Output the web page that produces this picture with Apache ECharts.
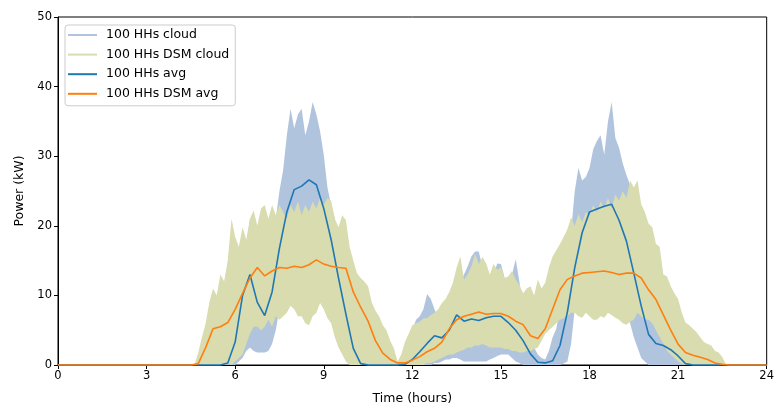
<!DOCTYPE html>
<html>
<head>
<meta charset="utf-8">
<script src="https://cdn.jsdelivr.net/npm/echarts@6/dist/echarts.min.js"></script>
<style>
  html, body { margin: 0; padding: 0; background: #fff; }
  #chart { width: 777px; height: 410px; }
</style>
</head>
<body>
<div id="chart"></div>
<script>
// Time grid for the averages: quarter-hour steps over the day (0 .. 24 h)
const hours = Array.from({ length: 97 }, (_, i) => i / 4);
// Time grid for the household spread: 7.5-minute steps, 4:30 .. 23:00
const cloudHours = Array.from({ length: 149 }, (_, k) => 4.5 + k / 8);

const xTicks = [0, 3, 6, 9, 12, 15, 18, 21, 24];
const yTicks = [0, 10, 20, 30, 40, 50];

// Leading zeros cover 0:00 - 4:15, trailing zeros cover 23:00 - 24:00
const Z18 = new Array(18).fill(0);
const Z5 = new Array(5).fill(0);

// Average power of 100 households (kW)
const hhAvg = Z18.concat([
  0, 0, 0, 0, 0, 0.3, 3.3, 10, 13, 9, 7.1, 10.5, 16.8, 22, 25.2, 25.7, 26.6, 25.9, 22.5, 18,
  12.5, 7.3, 2.4, 0.2, 0, 0, 0, 0, 0, 0.1, 0.8, 1.9, 3.1, 4.2, 3.9, 5.0, 7.2, 6.3, 6.6, 6.4,
  6.8, 7.0, 7.0, 6.1, 5.0, 3.5, 1.6, 0.4, 0.3, 0.6, 2.8, 7.6, 14.0, 19.0, 22, 22.4, 22.8, 23.1, 20.8, 17.8,
  13.2, 8.5, 4.4, 3.1, 2.8, 2.2, 1.3, 0.2, 0, 0, 0, 0, 0, 0
]).concat(Z5);

// Average power of 100 households with demand-side management (kW)
const dsmAvg = Z18.concat([
  0, 0.2, 2.5, 5.2, 5.5, 6.1, 8.0, 10.3, 12.5, 14.0, 12.8, 13.5, 14.0, 13.9, 14.2, 14.0, 14.4, 15.1, 14.5, 14.2,
  14.0, 13.9, 10.5, 8.3, 6.3, 3.5, 1.7, 0.8, 0.3, 0.3, 0.7, 1.2, 1.9, 2.4, 3.3, 5.2, 6.5, 7.0, 7.3, 7.6,
  7.3, 7.4, 7.4, 7.0, 6.3, 5.8, 4.2, 3.8, 5.2, 8.0, 10.8, 12.3, 12.8, 13.2, 13.3, 13.4, 13.5, 13.3, 13.0, 13.2,
  13.2, 12.5, 10.8, 9.4, 7.2, 5.0, 3.0, 1.8, 1.4, 1.1, 0.8, 0.3, 0.1, 0
]).concat(Z5);

// Spread of the individual household profiles on cloudHours (kW), one row per hour
const hhLow = [
  0, 0, 0, 0,                                 // 4:30
  0, 0, 0, 0, 0, 0, 0, 0,                     // 5
  0, 0.5, 1, 2, 2.5, 2, 1.8, 1.8,             // 6
  1.8, 2, 3, 5, 8, 10, 13, 15,                // 7
  17, 17.5, 18, 18, 18, 17.5, 17, 15.5,       // 8
  14, 11, 9, 7, 5, 3.5, 2, 1,                 // 9
  0, 0, 0, 0, 0, 0, 0, 0,                     // 10
  0, 0, 0, 0, 0, 0, 0, 0,                     // 11
  0, 0, 0, 0, 0, 0, 0.3, 0.3,                 // 12
  0.5, 0.8, 0.8, 1, 1, 0.8, 0.5, 0.5,         // 13
  0.5, 0.5, 0.5, 0.5, 0.5, 0.8, 1, 1.3,       // 14
  1.5, 1.5, 1.5, 1, 0.5, 0.3, 0, 0,           // 15
  0, 0, 0, 0, 0, 0, 0, 0,                     // 16
  0, 0.2, 0.5, 3, 8, 9.5, 11, 12.5,           // 17
  14, 14.5, 15, 15.5, 16, 15.5, 15, 13.5,     // 18
  12, 10, 8, 6, 4, 2.5, 1, 0.5,               // 19
  0, 0, 0, 0, 0, 0, 0, 0,                     // 20
  0, 0, 0, 0, 0, 0, 0, 0,                     // 21
  0, 0, 0, 0, 0, 0, 0, 0,                     // 22
  0                                           // 23
];

const hhHigh = [
  0, 0, 0, 0,
  0, 0, 0, 0, 0, 0, 0.5, 2,
  6, 9, 14, 17, 21, 18, 16, 14,
  13, 15, 18, 21, 25, 28, 33, 36.8,
  34, 36, 36.8, 33, 35, 37.8, 36, 33.6,
  30.2, 25.5, 23, 21, 17, 14, 11, 7,
  4.5, 2, 0.8, 0, 0, 0, 0, 0,
  0, 0, 0, 0, 0, 0, 1.5, 3,
  5, 6.5, 7, 8, 10.2, 9.5, 8, 6.7,
  6, 5.7, 7, 9, 11, 12, 13, 14.2,
  15.6, 16.3, 16.3, 14, 12, 13, 13, 14.6,
  14.5, 12.5, 11, 13, 15.2, 12, 8, 5,
  3.5, 2.5, 1.5, 1, 0.8, 2, 4, 5.2,
  8, 11.3, 14, 19, 25, 28.3, 26.5, 27,
  28.3, 31, 32.2, 33, 30.2, 35, 37.8, 32.6,
  31.2, 29, 27.3, 25.9, 24, 21, 18, 13,
  9, 8.5, 7, 6, 5, 4.5, 4, 3,
  2.5, 1.5, 0.8, 0, 0, 0, 0, 0,
  0, 0, 0, 0, 0, 0, 0, 0,
  0
];

const dsmLow = [
  0, 0, 0, 0,
  0, 0, 0, 0, 0, 0, 0.3, 0,
  0.5, 1, 1.5, 3, 4.5, 5.5, 5.5, 5,
  5.5, 6.5, 5.5, 7, 6.5, 7, 7.5, 8.5,
  8, 7, 7, 6, 5.7, 7, 7.5, 8.9,
  8, 6.7, 6, 4, 2.5, 1.5, 0.5, 0,
  0, 0, 0, 0, 0, 0, 0, 0,
  0, 0, 0, 0, 0, 0, 0, 0,
  0, 0, 0, 0, 0.3, 0.3, 0.5, 0.8,
  1, 1.3, 1.5, 1.5, 1.8, 2, 2.2, 2.5,
  2.5, 2.8, 2.8, 3, 2.8, 2.5, 2.5, 2.5,
  2.5, 2.3, 2.3, 2, 2, 1.8, 1.8, 2,
  2, 2.3, 2.5, 3.5, 4.5, 5, 5.5, 6,
  6.5, 6.7, 7, 7.5, 7.5, 7, 6.8, 7.5,
  7, 6.5, 6.5, 7, 6.8, 7.5, 7.2, 6.8,
  6.5, 6, 5.8, 6.2, 6.5, 7.5, 7, 6.5,
  6.5, 6, 5, 4, 3, 2, 1.5, 1,
  0.5, 0.2, 0, 0, 0, 0, 0, 0,
  0, 0, 0, 0, 0, 0, 0, 0,
  0
];

const dsmHigh = [
  0, 0, 1.8, 4,
  6, 9, 11, 10, 13, 12, 15, 21,
  18.4, 17, 19.8, 18, 21, 22.2, 20, 22.5,
  23, 21, 23, 21.5, 23, 22, 21, 23,
  22, 23.5, 21.5, 23, 22, 23.5, 22.5, 24,
  23, 24, 23.6, 21, 19.8, 21.5, 20.8, 17,
  15, 13.2, 12.5, 12, 11.3, 9, 7.8, 7,
  5.7, 5, 3.5, 2.4, 0.5, 1.5, 3.3, 4.5,
  5.7, 6, 6.2, 6.7, 6.7, 7.2, 7.5, 8,
  8.9, 9.5, 10.5, 11.8, 14, 15.6, 12.3, 13,
  14.2, 16, 14.5, 15.5, 14.6, 13, 14.5, 13.7,
  14, 12.5, 12.7, 13.5, 12.3, 11.5, 10.3, 11,
  11.3, 10, 12.3, 11, 11.8, 14, 15.6, 16.5,
  17.4, 18.4, 19.5, 21.2, 20, 21.7, 20.5, 22,
  21.5, 23, 22, 23.5, 22.5, 24, 22.5, 24.5,
  23.6, 25, 24, 26.5, 25.5, 26.5, 23.1, 22,
  20.3, 19.8, 17.4, 17, 13, 12.7, 11.3, 10.3,
  9.5, 7.5, 6.1, 5.7, 5.2, 4.7, 4, 3.3,
  3, 2.8, 2, 1.8, 1.1, 0, 0, 0,
  0
];

const COLORS = {
  hhCloud: '#b0c4de',
  dsmCloud: '#d8dcae',
  hhAvg: '#1f77b4',
  dsmAvg: '#ff7f0e'
};
const FONT = 'DejaVu Sans';

const pairs = (vals) => hours.map((h, i) => [h, vals[i]]);

// Filled band between a low and a high profile, drawn as one polygon
// whose vertices are placed by the cartesian coordinate system.
function band(name, lo, hi, color) {
  return {
    type: 'custom', name: name, silent: true, clip: true,
    itemStyle: { color: color },
    data: cloudHours.map((h, i) => [h, lo[i], hi[i]]),
    encode: { x: 0, y: [1, 2] },
    renderItem: function (params, api) {
      if (params.dataIndex !== 0) return null;
      const upper = cloudHours.map((h, i) => api.coord([h, hi[i]]));
      const lower = cloudHours.map((h, i) => api.coord([h, lo[i]])).reverse();
      return {
        type: 'polygon',
        shape: { points: upper.concat(lower) },
        style: { fill: color, stroke: null }
      };
    },
    animation: false
  };
}

function avgLine(name, vals, color) {
  return {
    type: 'line', name: name, data: pairs(vals), symbol: 'none', clip: false,
    lineStyle: { color: color, width: 1.6 }, itemStyle: { color: color },
    animation: false
  };
}

const chart = echarts.init(document.getElementById('chart'), null, { renderer: 'canvas' });

chart.setOption({
  animation: false,
  grid: {
    left: 58, right: 4, top: 17, bottom: 40,
    show: true, borderColor: '#000', borderWidth: 1, backgroundColor: 'transparent'
  },
  legend: {
    orient: 'vertical', left: 65, top: 25,
    padding: [3, 6, 5, 3],
    itemGap: 5.6, itemWidth: 29, itemHeight: 2,
    icon: 'rect',
    borderColor: '#cccccc', borderWidth: 1, borderRadius: 3,
    backgroundColor: 'rgba(255,255,255,0.8)',
    textStyle: { fontFamily: FONT, fontSize: 12.5, color: '#000', lineHeight: 14, padding: [0, 0, 0, 4] },
    data: ['100 HHs cloud', '100 HHs DSM cloud', '100 HHs avg', '100 HHs DSM avg']
  },
  xAxis: {
    type: 'value', min: xTicks[0], max: xTicks[xTicks.length - 1], interval: 3,
    name: 'Time (hours)', nameLocation: 'middle', nameGap: 27,
    nameTextStyle: { fontFamily: FONT, fontSize: 12.5, color: '#000' },
    axisLine: { show: true, onZero: false, lineStyle: { color: '#000', width: 1 } },
    axisTick: { show: true, inside: false, length: 4, lineStyle: { color: '#000' } },
    axisLabel: { fontFamily: FONT, fontSize: 11.5, color: '#000', margin: 5 },
    splitLine: { show: false }
  },
  yAxis: {
    type: 'value', min: yTicks[0], max: yTicks[yTicks.length - 1], interval: 10,
    name: 'Power (kW)', nameLocation: 'middle', nameGap: 31,
    nameTextStyle: { fontFamily: FONT, fontSize: 12.5, color: '#000' },
    axisLine: { show: true, onZero: false, lineStyle: { color: '#000', width: 1 } },
    axisTick: { show: true, inside: false, length: 4, lineStyle: { color: '#000' } },
    axisLabel: { fontFamily: FONT, fontSize: 11.5, color: '#000', margin: 6 },
    splitLine: { show: false }
  },
  series: [
    band('100 HHs cloud', hhLow, hhHigh, COLORS.hhCloud),
    band('100 HHs DSM cloud', dsmLow, dsmHigh, COLORS.dsmCloud),
    avgLine('100 HHs avg', hhAvg, COLORS.hhAvg),
    avgLine('100 HHs DSM avg', dsmAvg, COLORS.dsmAvg)
  ]
});
</script>
</body>
</html>
